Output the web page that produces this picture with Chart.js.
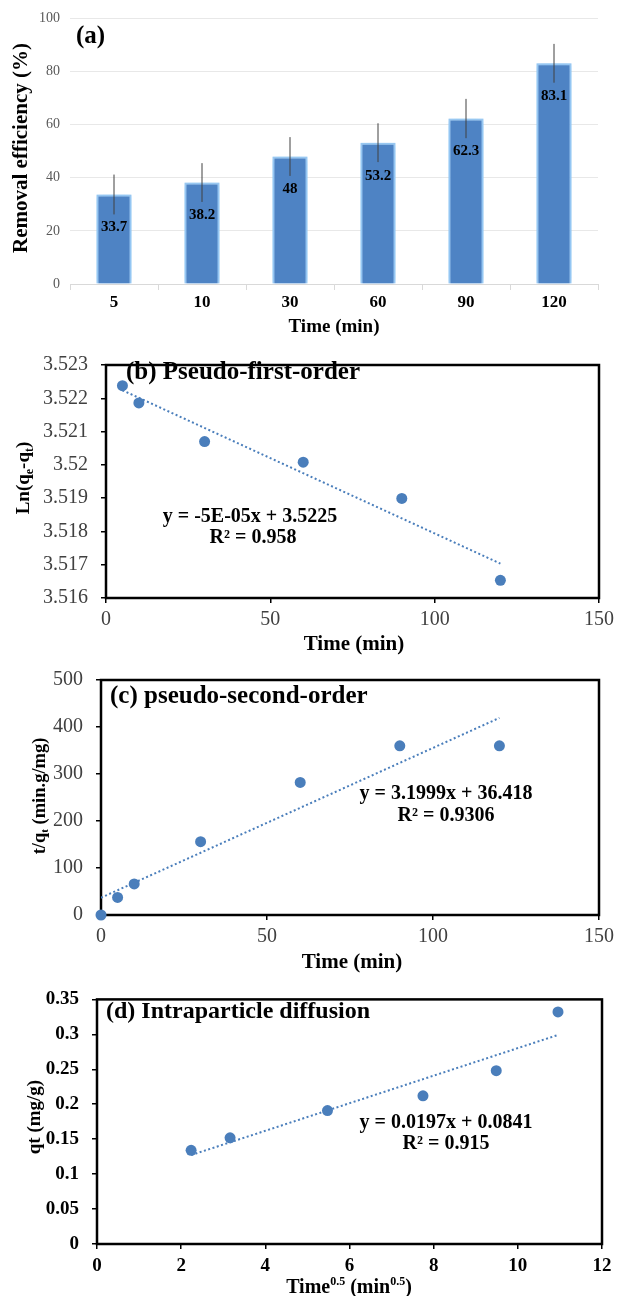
<!DOCTYPE html>
<html>
<head>
<meta charset="utf-8">
<script src="https://cdn.jsdelivr.net/npm/chart.js@4.4.0/dist/chart.umd.min.js"></script>
<style>
  body { margin: 0; background: #fff; }
  .panel { position: absolute; left: 0; }
</style>
</head>
<body>
<canvas id="chartA" class="panel" width="619" height="340" style="top:0px"></canvas>
<canvas id="chartB" class="panel" width="619" height="315" style="top:340px"></canvas>
<canvas id="chartC" class="panel" width="619" height="320" style="top:655px"></canvas>
<canvas id="chartD" class="panel" width="619" height="321" style="top:975px"></canvas>
<script>
"use strict";

// (a) removal efficiency vs time
const timeLabels = ["5", "10", "30", "60", "90", "120"];
const removalEff = [33.7, 38.2, 48, 53.2, 62.3, 83.1];
const removalErr = [7.5, 7.3, 7.3, 7.3, 7.4, 7.3];
const effTicks = [0, 20, 40, 60, 80, 100];

// (b) pseudo-first-order
const timeB = [5, 10, 30, 60, 90, 120];
const lnQeQt = [3.52238, 3.52186, 3.5207, 3.52008, 3.51899, 3.51653];
const lnTicks = [3.516, 3.517, 3.518, 3.519, 3.52, 3.521, 3.522, 3.523];
const timeTicks = [0, 50, 100, 150];

// (c) pseudo-second-order
const timeC = [0, 5, 10, 30, 60, 90, 120];
const tOverQt = [0, 37.5, 66, 156, 282, 360, 360];
const tqTicks = [0, 100, 200, 300, 400, 500];

// (d) intraparticle diffusion
const sqrtTime = [2.236, 3.162, 5.477, 7.746, 9.487, 10.954];
const qtVals = [0.134, 0.152, 0.191, 0.212, 0.248, 0.332];
const qtTicks = [0, 0.05, 0.1, 0.15, 0.2, 0.25, 0.3, 0.35];
const sqrtTicks = [0, 2, 4, 6, 8, 10, 12];

const SERIF = '"Liberation Serif", "Times New Roman", serif';
const BLUE = "#4a7ebb";
Chart.defaults.font.family = SERIF;

function toPoints(xs, ys) {
  return xs.map((x, i) => ({ x: x, y: ys[i] }));
}

// least squares trendline, like the spreadsheet does it
function trendline(xs, ys) {
  const n = xs.length;
  const mx = xs.reduce((a, b) => a + b, 0) / n;
  const my = ys.reduce((a, b) => a + b, 0) / n;
  let sxy = 0, sxx = 0;
  for (let i = 0; i < n; i++) {
    sxy += (xs[i] - mx) * (ys[i] - my);
    sxx += (xs[i] - mx) * (xs[i] - mx);
  }
  const k = sxy / sxx;
  const b = my - k * mx;
  const x0 = Math.min(...xs), x1 = Math.max(...xs);
  return [{ x: x0, y: k * x0 + b }, { x: x1, y: k * x1 + b }];
}

// text with sub/superscripts: parts = [[text, ""|"sub"|"sup"], ...]
function drawRich(ctx, parts, x, y, size, opts) {
  opts = opts || {};
  ctx.save();
  ctx.translate(x, y);
  if (opts.rotate) ctx.rotate(-Math.PI / 2);
  const fontFor = (m) =>
    (opts.weight || "bold") + " " + (m ? Math.round(size * 0.62) : size) + "px " + SERIF;
  let total = 0;
  parts.forEach(([t, m]) => {
    ctx.font = fontFor(m);
    total += ctx.measureText(t).width;
  });
  let cx = opts.align === "left" ? 0 : -total / 2;
  ctx.textBaseline = "middle";
  ctx.textAlign = "left";
  ctx.fillStyle = opts.color || "#000";
  parts.forEach(([t, m]) => {
    ctx.font = fontFor(m);
    const dy = m === "sub" ? size * 0.3 : m === "sup" ? -size * 0.32 : 0;
    ctx.fillText(t, cx, dy);
    cx += ctx.measureText(t).width;
  });
  ctx.restore();
}

function textPlugin(items) {
  return {
    id: "texts",
    afterDraw(chart) {
      items.forEach((it) => drawRich(chart.ctx, it.parts, it.x, it.y, it.size, it));
    },
  };
}

const boxPlugin = {
  id: "box",
  beforeDatasetsDraw(chart) {
    const a = chart.chartArea;
    const ctx = chart.ctx;
    ctx.save();
    ctx.strokeStyle = "#000";
    ctx.lineWidth = 2.5;
    ctx.strokeRect(a.left, a.top, a.right - a.left, a.bottom - a.top);
    ctx.restore();
  },
};

/*-------------------------------------------------------------*/
/*-----(a) Bar with error bars---------------------------------*/
/*-------------------------------------------------------------*/
const glowPlugin = {
  id: "glow",
  beforeDatasetDraw(chart) {
    chart.ctx.save();
    chart.ctx.shadowColor = "rgba(140, 195, 245, 1)";
    chart.ctx.shadowBlur = 7;
  },
  afterDatasetDraw(chart) {
    chart.ctx.restore();
  },
};

const errorPlugin = {
  id: "errors",
  afterDatasetsDraw(chart) {
    const ctx = chart.ctx;
    const meta = chart.getDatasetMeta(0);
    const y = chart.scales.y;
    ctx.save();
    ctx.strokeStyle = "#404040";
    ctx.lineWidth = 1;
    meta.data.forEach((bar, i) => {
      ctx.beginPath();
      ctx.moveTo(bar.x, y.getPixelForValue(removalEff[i] + removalErr[i]));
      ctx.lineTo(bar.x, y.getPixelForValue(removalEff[i] - removalErr[i]));
      ctx.stroke();
    });
    ctx.fillStyle = "#000";
    ctx.font = "bold 15px " + SERIF;
    ctx.textAlign = "center";
    ctx.textBaseline = "middle";
    meta.data.forEach((bar, i) => {
      ctx.fillText(String(removalEff[i]), bar.x, bar.y + 33);
    });
    ctx.restore();
  },
};

new Chart(document.getElementById("chartA"), {
  type: "bar",
  data: {
    labels: timeLabels,
    datasets: [
      {
        data: removalEff,
        backgroundColor: "#4e83c4",
        borderColor: "#9cc9f0",
        borderWidth: 2,
        categoryPercentage: 1,
        barPercentage: 0.4,
      },
    ],
  },
  options: {
    responsive: false,
    animation: false,
    layout: { padding: { top: 17, right: 21, left: 0, bottom: 0 } },
    plugins: { legend: { display: false }, tooltip: { enabled: false } },
    scales: {
      x: {
        afterFit: (s) => { s.height = 56; },
        grid: { offset: true, drawOnChartArea: false, tickLength: 6, color: "#d9d9d9" },
        border: { color: "#d9d9d9" },
        ticks: { color: "#000", padding: 2, font: { size: 17, weight: "bold" } },
      },
      y: {
        min: 0,
        max: 100,
        afterFit: (s) => { s.width = 70; },
        afterBuildTicks: (s) => { s.ticks = effTicks.map((v) => ({ value: v })); },
        grid: { color: "#e8e8e8", drawTicks: false },
        border: { display: false },
        ticks: { color: "#595959", padding: 10, font: { size: 14 } },
      },
    },
  },
  plugins: [
    glowPlugin,
    errorPlugin,
    textPlugin([
      { parts: [["(a)", ""]], x: 76, y: 37, size: 25, align: "left" },
      { parts: [["Removal efficiency (%)", ""]], x: 22, y: 148, size: 21, rotate: true },
      { parts: [["Time (min)", ""]], x: 334, y: 327, size: 19 },
    ]),
  ],
});

/*-------------------------------------------------------------*/
/*-----Scatter panels with trendline---------------------------*/
/*-------------------------------------------------------------*/
function createScatter(cfg) {
  const tickFont = cfg.boldTicks ? { size: 19, weight: "bold" } : { size: 20 };
  const tickColor = cfg.boldTicks ? "#000" : "#404040";
  return {
    type: "scatter",
    data: {
      datasets: [
        {
          data: toPoints(cfg.xs, cfg.ys),
          backgroundColor: BLUE,
          borderWidth: 0,
          pointRadius: 5.5,
          clip: false,
          order: 1,
        },
        {
          type: "line",
          data: trendline(cfg.xs, cfg.ys),
          borderColor: BLUE,
          borderWidth: 2,
          borderDash: [2, 2.5],
          pointRadius: 0,
          fill: false,
          order: 2,
        },
      ],
    },
    options: {
      responsive: false,
      animation: false,
      layout: { padding: { top: cfg.top, right: 17, left: 0, bottom: 0 } },
      plugins: { legend: { display: false }, tooltip: { enabled: false } },
      scales: {
        x: {
          type: "linear",
          min: cfg.xTicks[0],
          max: cfg.xTicks[cfg.xTicks.length - 1],
          afterFit: (s) => { s.height = cfg.xh; },
          afterBuildTicks: (s) => { s.ticks = cfg.xTicks.map((v) => ({ value: v })); },
          grid: { drawOnChartArea: false, tickLength: 5, color: "#000", lineWidth: 1.5 },
          border: { display: false },
          ticks: { color: tickColor, padding: cfg.xPad, font: tickFont, callback: (v) => String(v) },
        },
        y: {
          min: cfg.yTicks[0],
          max: cfg.yTicks[cfg.yTicks.length - 1],
          afterFit: (s) => { s.width = cfg.yw; },
          afterBuildTicks: (s) => { s.ticks = cfg.yTicks.map((v) => ({ value: v })); },
          grid: { drawOnChartArea: false, tickLength: 5, color: "#000", lineWidth: 1.5 },
          border: { display: false },
          ticks: { color: tickColor, padding: 13, font: tickFont, callback: (v) => String(+v.toFixed(4)) },
        },
      },
    },
    plugins: [boxPlugin, textPlugin(cfg.texts)],
  };
}

new Chart(
  document.getElementById("chartB"),
  createScatter({
    xs: timeB, ys: lnQeQt, xTicks: timeTicks, yTicks: lnTicks,
    top: 18, xh: 57, yw: 106, xPad: 5,
    texts: [
      { parts: [["(b) Pseudo-first-order", ""]], x: 126, y: 33, size: 25, align: "left" },
      { parts: [["Ln(q", ""], ["e", "sub"], ["-q", ""], ["t", "sub"], [")", ""]], x: 24, y: 138, size: 19, rotate: true },
      { parts: [["Time (min)", ""]], x: 354, y: 305, size: 21 },
      { parts: [["y = -5E-05x + 3.5225", ""]], x: 250, y: 177, size: 20 },
      { parts: [["R\u00b2 = 0.958", ""]], x: 253, y: 198, size: 20 },
    ],
  })
);

new Chart(
  document.getElementById("chartC"),
  createScatter({
    xs: timeC, ys: tOverQt, xTicks: timeTicks, yTicks: tqTicks,
    top: 22, xh: 60, yw: 101, xPad: 5,
    texts: [
      { parts: [["(c) pseudo-second-order", ""]], x: 110, y: 42, size: 25, align: "left" },
      { parts: [["t/q", ""], ["t", "sub"], [" (min.g/mg)", ""]], x: 40, y: 141, size: 18.5, rotate: true },
      { parts: [["Time (min)", ""]], x: 352, y: 308, size: 21 },
      { parts: [["y = 3.1999x + 36.418", ""]], x: 446, y: 139, size: 20 },
      { parts: [["R\u00b2 = 0.9306", ""]], x: 446, y: 161, size: 20 },
    ],
  })
);

new Chart(
  document.getElementById("chartD"),
  createScatter({
    xs: sqrtTime, ys: qtVals, xTicks: sqrtTicks, yTicks: qtTicks,
    top: 14, xh: 52, yw: 97, xPad: 6, boldTicks: true,
    texts: [
      { parts: [["(d) Intraparticle diffusion", ""]], x: 106, y: 37, size: 24, align: "left" },
      { parts: [["qt (mg/g)", ""]], x: 35, y: 142, size: 19, rotate: true },
      { parts: [["Time", ""], ["0.5", "sup"], [" (min", ""], ["0.5", "sup"], [")", ""]], x: 349, y: 313, size: 20 },
      { parts: [["y = 0.0197x + 0.0841", ""]], x: 446, y: 148, size: 20 },
      { parts: [["R\u00b2 = 0.915", ""]], x: 446, y: 169, size: 20 },
    ],
  })
);
</script>
</body>
</html>
